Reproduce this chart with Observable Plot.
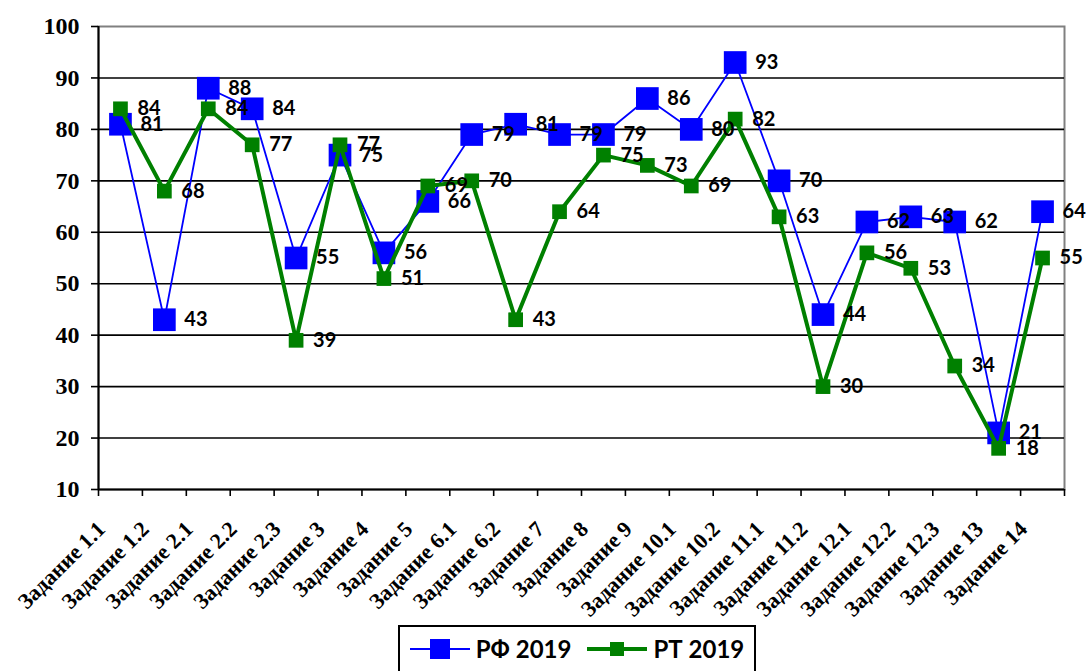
<!DOCTYPE html>
<html>
<head>
<meta charset="utf-8">
<script src="https://cdn.jsdelivr.net/npm/d3@7"></script>
<script src="https://cdn.jsdelivr.net/npm/@observablehq/plot@0.6"></script>
<style>
  body { margin: 0; background: #fff; width: 1088px; height: 671px; overflow: hidden; position: relative; }
  #chart svg { display: block; }
  #chart g[aria-label="y-axis tick label"] text { font-size: 24px; font-weight: bold; font-family: "Liberation Serif", serif; }
  #chart g[aria-label="x-axis tick label"] text { font-size: 22px; font-weight: bold; font-family: "Liberation Serif", serif; }
  #legend {
    position: absolute; left: 398px; top: 625px; width: 358px; height: 60px;
    border: 2px solid #000; background: #fff; box-sizing: border-box;
    display: flex; align-items: flex-start; justify-content: center; padding-top: 7px;
    font-family: Lato, "Open Sans", sans-serif; font-weight: bold; font-size: 24px; color: #000;
  }
  .item { display: flex; align-items: center; margin: 0 8px; }
  .item svg { margin-right: 6px; }
</style>
</head>
<body>
<div id="chart"></div>
<div id="legend"></div>
<script>
const categories = ["Задание 1.1","Задание 1.2","Задание 2.1","Задание 2.2","Задание 2.3","Задание 3","Задание 4","Задание 5","Задание 6.1","Задание 6.2","Задание 7","Задание 8","Задание 9","Задание 10.1","Задание 10.2","Задание 11.1","Задание 11.2","Задание 12.1","Задание 12.2","Задание 12.3","Задание 13","Задание 14"];
const rf2019 = [81,43,88,84,55,75,56,66,79,81,79,79,86,80,93,70,44,62,63,62,21,64];
const rt2019 = [84,68,84,77,39,77,51,69,70,43,64,75,73,69,82,63,30,56,53,34,18,55];
const yTicks = [10,20,30,40,50,60,70,80,90,100];
const gridValues = [20,30,40,50,60,70,80,90];
const seriesNames = ["РФ 2019","РТ 2019"];
const seriesColors = ["#0000ff","#008000"];

const rows = categories.map((c, i) => ({i, c, rf: rf2019[i], rt: rt2019[i]}));
const xc = d => d.i + 0.5;

const chart = Plot.plot({
  width: 1088,
  height: 625,
  marginLeft: 98,
  marginRight: 24,
  marginTop: 26,
  marginBottom: 136,
  style: {background: "white", color: "black", overflow: "visible"},
  x: {domain: [0, categories.length], axis: null},
  y: {domain: [10, 100], axis: null},
  marks: [
    Plot.frame({stroke: "#808080", strokeWidth: 2}),
    Plot.ruleY(gridValues, {stroke: "black", strokeWidth: 1.6}),
    Plot.axisY({ticks: yTicks, tickSize: 7, tickPadding: 12, label: null, strokeWidth: 1.6,
      fontSize: 24, fontWeight: "bold", fontFamily: "Liberation Serif"}),
    Plot.axisX({ticks: d3.range(categories.length + 1), tickFormat: () => "", tickSize: 7, label: null, strokeWidth: 1.6}),
    Plot.axisX({ticks: categories.map((c, i) => i + 0.5), tickFormat: t => categories[Math.floor(t)],
      tickSize: 0, tickRotate: -45, tickPadding: 36, dx: -19, label: null,
      fontSize: 22, fontWeight: "bold", fontFamily: "Liberation Serif"}),
    Plot.ruleY([10], {stroke: "black", strokeWidth: 2}),
    Plot.ruleX([0], {stroke: "black", strokeWidth: 2}),
    Plot.line(rows, {x: xc, y: "rf", stroke: seriesColors[0], strokeWidth: 1.8}),
    Plot.dot(rows, {x: xc, y: "rf", symbol: "square", r: 12.8, fill: seriesColors[0], stroke: null}),
    Plot.line(rows, {x: xc, y: "rt", stroke: seriesColors[1], strokeWidth: 4}),
    Plot.dot(rows, {x: xc, y: "rt", symbol: "square", r: 8.3, fill: seriesColors[1], stroke: null}),
    Plot.text(rows, {x: xc, y: "rf", text: d => String(d.rf), dx: 20, textAnchor: "start",
      fontSize: 20, fontWeight: "bold", fontFamily: "Lato", fill: "black"}),
    Plot.text(rows, {x: xc, y: "rt", text: d => String(d.rt), dx: 17, textAnchor: "start",
      fontSize: 20, fontWeight: "bold", fontFamily: "Lato", fill: "black"})
  ]
});
document.getElementById("chart").append(chart);

const legend = document.getElementById("legend");
seriesNames.forEach((name, k) => {
  const item = document.createElement("div");
  item.className = "item";
  const sw = k === 0 ? 1.8 : 4;
  const sq = k === 0 ? 20 : 14;
  item.innerHTML = `<svg width="60" height="24"><line x1="0" x2="60" y1="12" y2="12" stroke="${seriesColors[k]}" stroke-width="${sw}"/><rect x="${30 - sq/2}" y="${12 - sq/2}" width="${sq}" height="${sq}" fill="${seriesColors[k]}"/></svg><span>${name}</span>`;
  legend.append(item);
});
</script>
</body>
</html>
